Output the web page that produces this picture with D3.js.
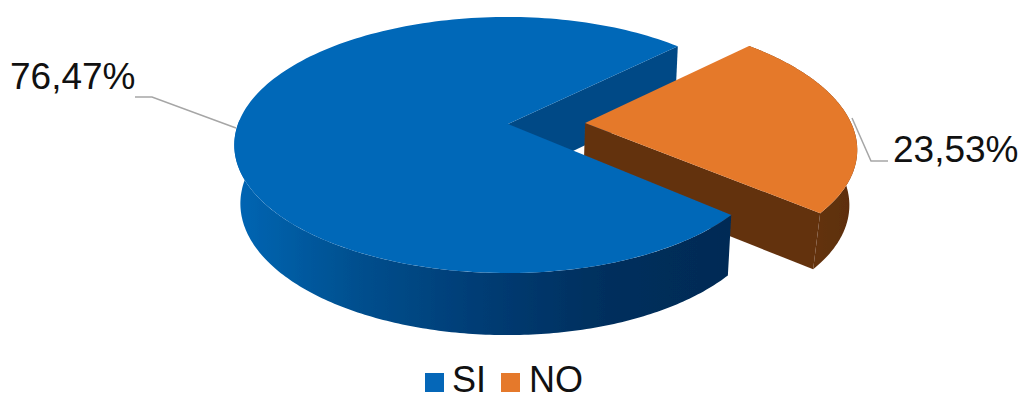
<!DOCTYPE html>
<html><head><meta charset="utf-8">
<style>html,body{margin:0;padding:0;background:#fff}svg{display:block}text{font-family:"Liberation Sans",Arial,sans-serif;fill:#111}</style>
<script src="https://cdn.jsdelivr.net/npm/d3@7"></script>
</head><body><svg id="c" width="1023" height="394"></svg>
<script>
const categories = ["SI", "NO"];
const values = [76.47, 23.53];
const valueLabels = ["76,47%", "23,53%"];
const colors = {SI: {top: "#0567b8", cut: "#044a86", wallStops: ["#0666b4", "#054f8e", "#023c74", "#002f5d", "#002b55"]},
                NO: {top: "#e5792b", cut: "#643311", wallStops: ["#643311", "#5c2e0f"]}};

const W = 1023, H = 394;
const svg = d3.select("#c").attr("viewBox", [0, 0, W, H]);
const DEG = Math.PI / 180;
const startDeg = 130.7, explode = 0.29, k = 0.164;
const pie = d3.pie().sort(null).startAngle(startDeg * DEG).endAngle(startDeg * DEG + 2 * Math.PI);
const arcs = pie(values);

// unit-disc plane -> screen scales, one set per slice and face
const faces = {
  SI: {top: {x: d3.scaleLinear([-1, 0, 1], [508 - 270, 508, 508 + 263]), y: d3.scaleLinear([0, 1], [124, 248.6])},
       bot: {x: d3.scaleLinear([-1, 0, 1], [508 - 264, 508, 508 + 259]), y: d3.scaleLinear([0, 1], [182, 310])}},
  NO: {top: {x: d3.scaleLinear([0, 1], [508, 774]), y: d3.scaleLinear([0, 1], [123, 246.5])},
       bot: {x: d3.scaleLinear([0, 1], [508, 768]), y: d3.scaleLinear([0, 1], [178, 303])}}
};
function pt(cat, a, r, ox, face) {
  const u = ox + r * Math.sin(a), v = -r * Math.cos(a), w = 1 - k * v, f = faces[cat][face];
  return [f.x(u / w), f.y(v / w)];
}
const line = d3.line();
function rim(cat, a0, a1, ox, face) {
  return d3.range(0, 181).map(i => pt(cat, a0 + (a1 - a0) * i / 180, 1, ox, face));
}
const defs = svg.append("defs");
defs.append("filter").attr("id", "soft").append("feGaussianBlur").attr("stdDeviation", 0.6);
function grad(id, stops, x1, x2) {
  const g = defs.append("linearGradient").attr("id", id).attr("gradientUnits", "userSpaceOnUse")
    .attr("x1", x1).attr("x2", x2).attr("y1", 0).attr("y2", 0);
  stops.forEach((c, i) => g.append("stop").attr("offset", i / (stops.length - 1)).attr("stop-color", c));
}
grad("wallSI", colors.SI.wallStops, 234, 730);
grad("wallNO", colors.NO.wallStops, 810, 857);
const g = svg.append("g").attr("filter", "url(#soft)");

const [si, no] = arcs;
const siA0 = si.startAngle, siA1 = si.endAngle, noA0 = no.startAngle, noA1 = no.endAngle;
const leftA = 272 * DEG;

// blue back cut wall
g.append("path").attr("fill", colors.SI.cut).attr("d", line([
  pt("SI", 0, 0, 0, "top"), pt("SI", siA1, 1, 0, "top"), pt("SI", siA1, 1, 0, "bot"), pt("SI", 0, 0, 0, "bot")]) + "Z");
// orange outer wall
g.append("path").attr("fill", "url(#wallNO)").attr("d",
  line([...rim("NO", noA0, noA1, explode, "top"), ...rim("NO", noA1, noA0, explode, "bot")]) + "Z");
// orange front cut wall
g.append("path").attr("fill", colors.NO.cut).attr("d", line([
  pt("NO", 0, 0, explode, "top"), pt("NO", noA1, 1, explode, "top"), pt("NO", noA1, 1, explode, "bot"), pt("NO", 0, 0, explode, "bot")]) + "Z");
// orange top
g.append("path").attr("fill", colors.NO.top).attr("d",
  line([pt("NO", 0, 0, explode, "top"), ...rim("NO", noA0, noA1, explode, "top")]) + "Z");
// blue outer wall (visible part: front corner round to the left extreme)
g.append("path").attr("fill", "url(#wallSI)").attr("d",
  line([...rim("SI", siA0, leftA, 0, "top"), ...rim("SI", leftA, siA0, 0, "bot")]) + "Z");
// blue top
g.append("path").attr("fill", colors.SI.top).attr("d",
  line([pt("SI", 0, 0, 0, "top"), ...rim("SI", siA0, siA1, 0, "top")]) + "Z");

// leader lines
const leaders = [[[135, 97], [152, 97], [236, 128]], [[852, 118], [871, 161], [888, 161]]];
svg.append("g").selectAll("path").data(leaders).join("path")
  .attr("d", d => line(d)).attr("fill", "none").attr("stroke", "#a6a6a6").attr("stroke-width", 1.5);

// value labels
const labelPos = [[10, 89], [893, 162]];
svg.append("g").selectAll("text").data(valueLabels).join("text")
  .attr("x", (d, i) => labelPos[i][0]).attr("y", (d, i) => labelPos[i][1])
  .attr("font-size", 37).text(d => d);

// legend
const legX = [425, 501], legTextX = [452, 529];
const leg = svg.append("g").selectAll("g").data(categories).join("g");
leg.append("rect").attr("x", (d, i) => legX[i]).attr("y", 373).attr("width", 19).attr("height", 19)
  .attr("fill", d => d === "SI" ? colors.SI.top : colors.NO.top);
leg.append("text").attr("x", (d, i) => legTextX[i]).attr("y", 392).attr("font-size", 36).text(d => d);
</script></body></html>
